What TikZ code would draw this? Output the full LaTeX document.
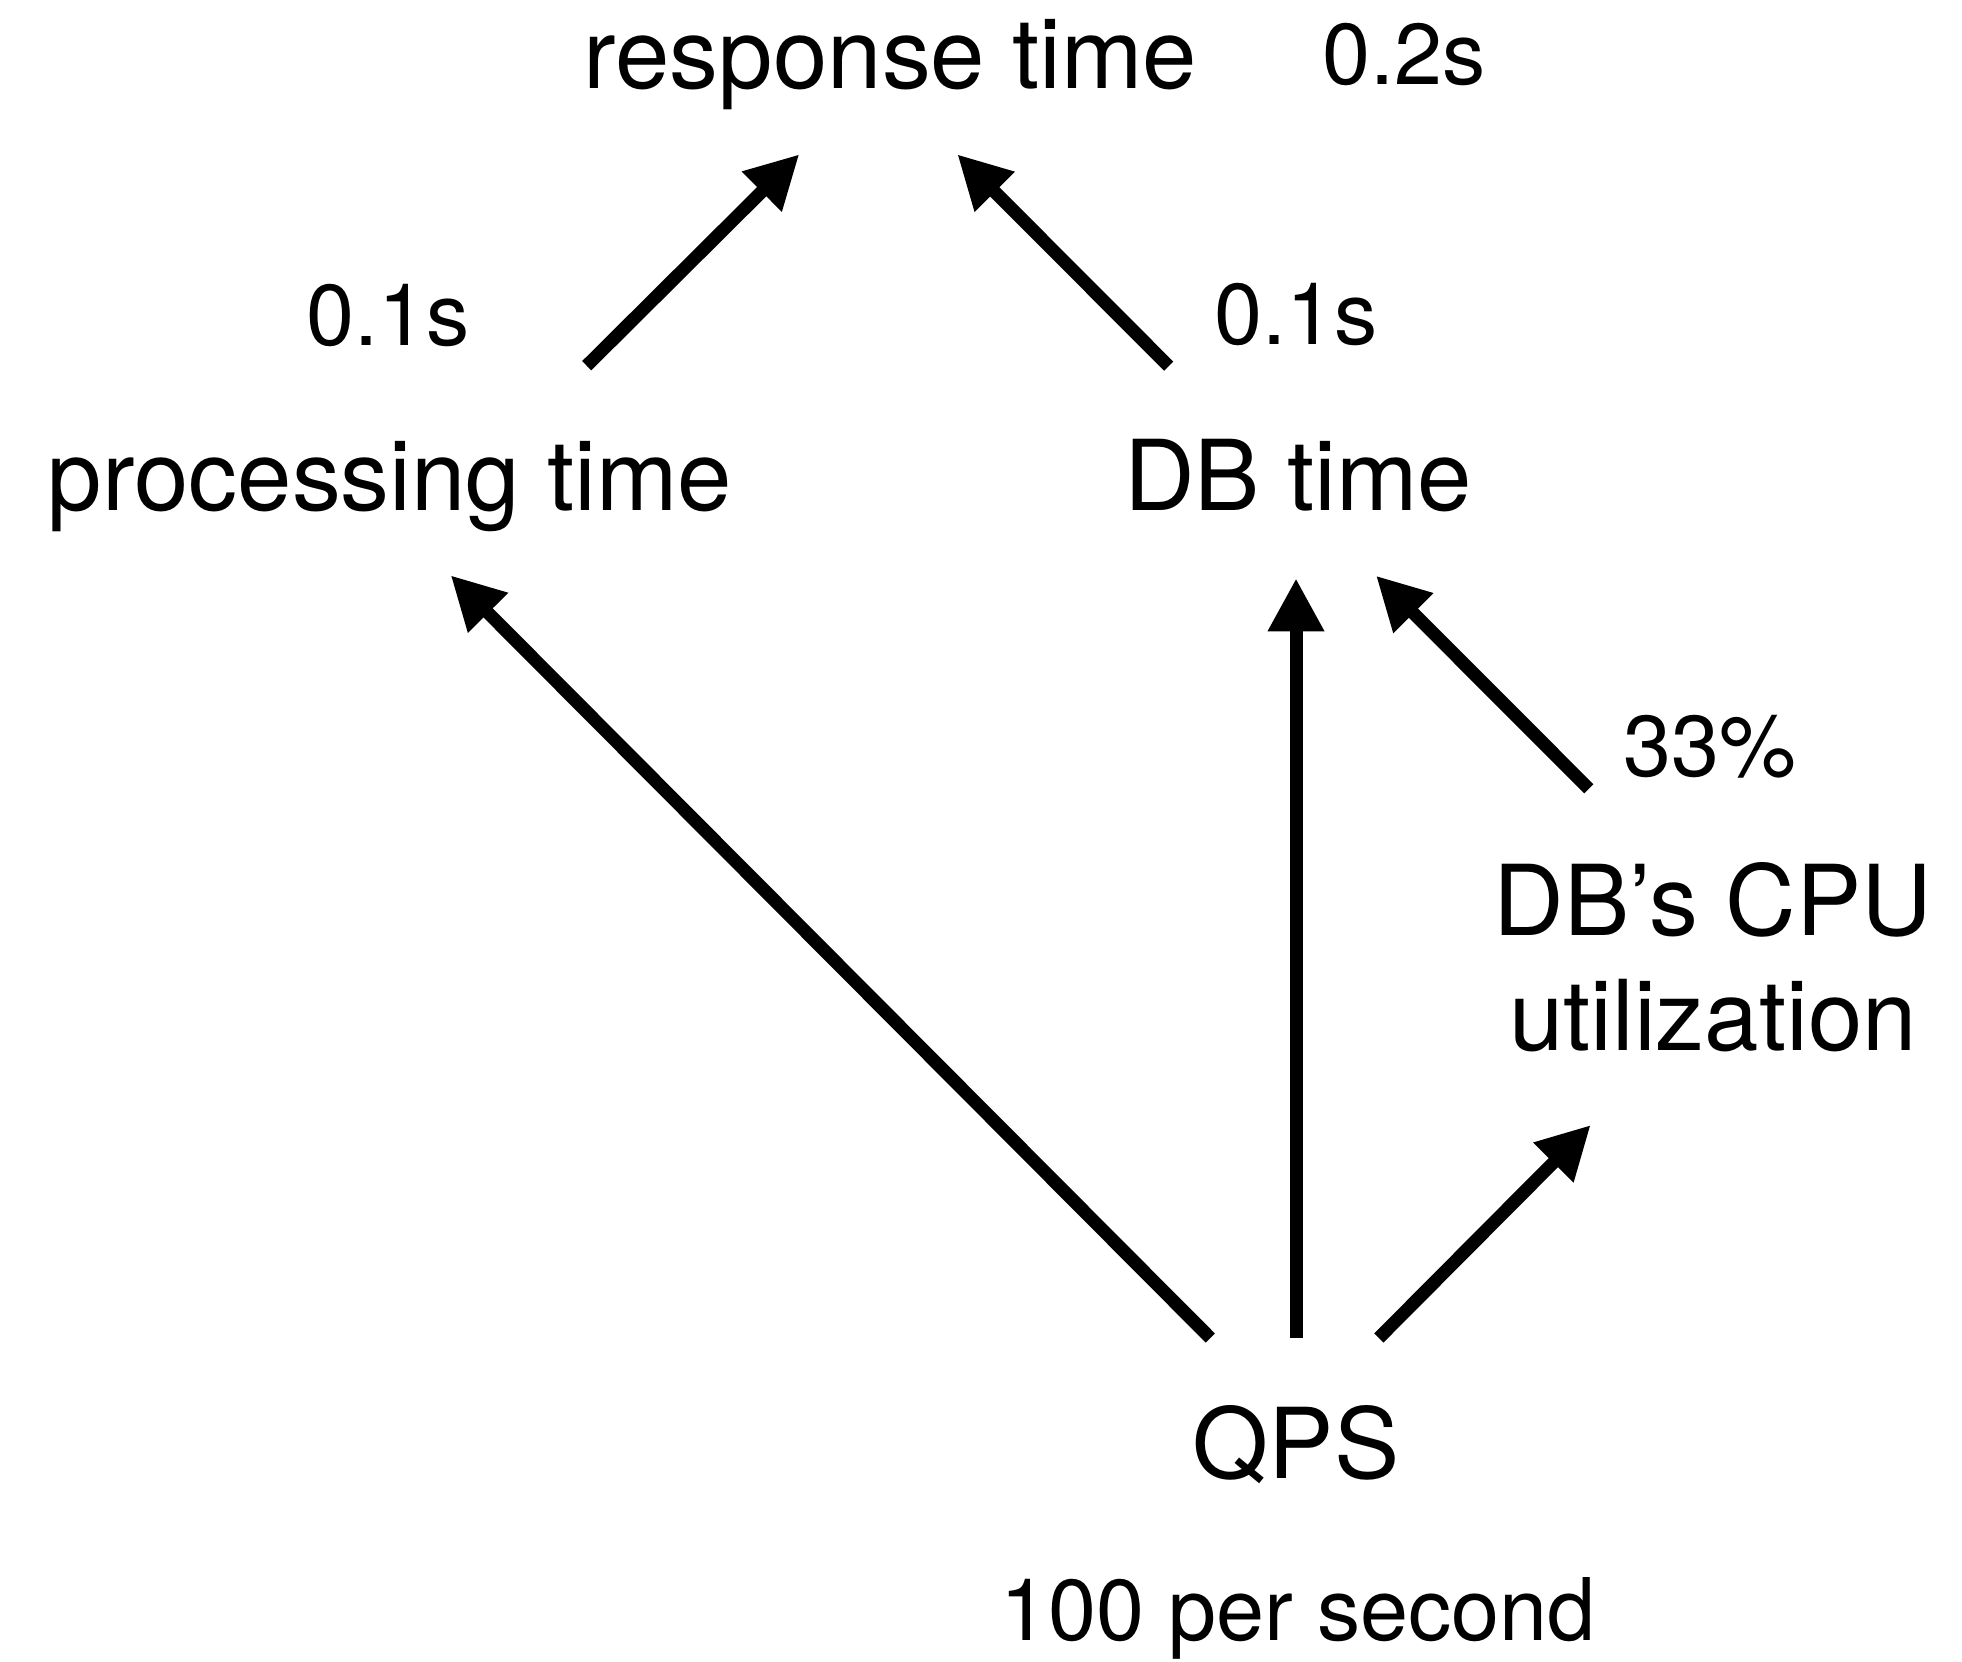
\documentclass[tikz,border=0pt]{standalone}
\usepackage{fontspec}
\setmainfont{TeX Gyre Heros}
\usetikzlibrary{arrows.meta}
\begin{document}
\begin{tikzpicture}[x=0.5pt,y=-0.5pt,
  main/.style={font=\fontsize{48.9}{57.5}\selectfont, inner sep=0pt, anchor=base, align=center},
  val/.style={font=\fontsize{43.2}{51}\selectfont, inner sep=0pt, anchor=base},
  link/.style={line width=6.5pt, -{Triangle[length=26.5pt,width=26.5pt]}}]
\useasboundingbox (0,0) rectangle (1962,1661);

% metrics and their values (the two-line node sits on its last baseline)
\node[main] (resp) at (890.5,88) {response time};
\node[val]  (respv) at (1404,84) {0.2s};
\node[main] (proc) at (390,510) {processing time};
\node[val]  (procv) at (388,345) {0.1s};
\node[main] (db) at (1298,510) {DB time};
\node[val]  (dbv) at (1296,344) {0.1s};
\node[main] (cpu) at (1713,1050) {DB’s CPU\\utilization};
\node[val]  (cpuv) at (1710,776) {33\%};
\node[main] (qps) at (1296,1478) {QPS};
\node[val]  (qpsv) at (1298,1640) {100 per second};

% arrow end points
\coordinate (proc-up)   at (586.7,365.7);
\coordinate (resp-inl)  at (799.3,154.3);
\coordinate (db-up)     at (1168.7,366.2);
\coordinate (resp-inr)  at (957.3,154.3);
\coordinate (qps-left)  at (1210.3,1338);
\coordinate (proc-in)   at (450.7,575.3);
\coordinate (qps-mid)   at (1296,1337.7);
\coordinate (db-inc)    at (1296,578.3);
\coordinate (cpu-up)    at (1588.8,788.8);
\coordinate (db-inr)    at (1376,575.7);
\coordinate (qps-right) at (1378.8,1338);
\coordinate (cpu-in)    at (1590.7,1125);

% dependencies
\draw[link] (proc-up) -- (resp-inl);
\draw[link] (db-up) -- (resp-inr);
\draw[link] (qps-left) -- (proc-in);
\draw[link] (qps-mid) -- (db-inc);
\draw[link] (cpu-up) -- (db-inr);
\draw[link] (qps-right) -- (cpu-in);
\end{tikzpicture}
\end{document}
